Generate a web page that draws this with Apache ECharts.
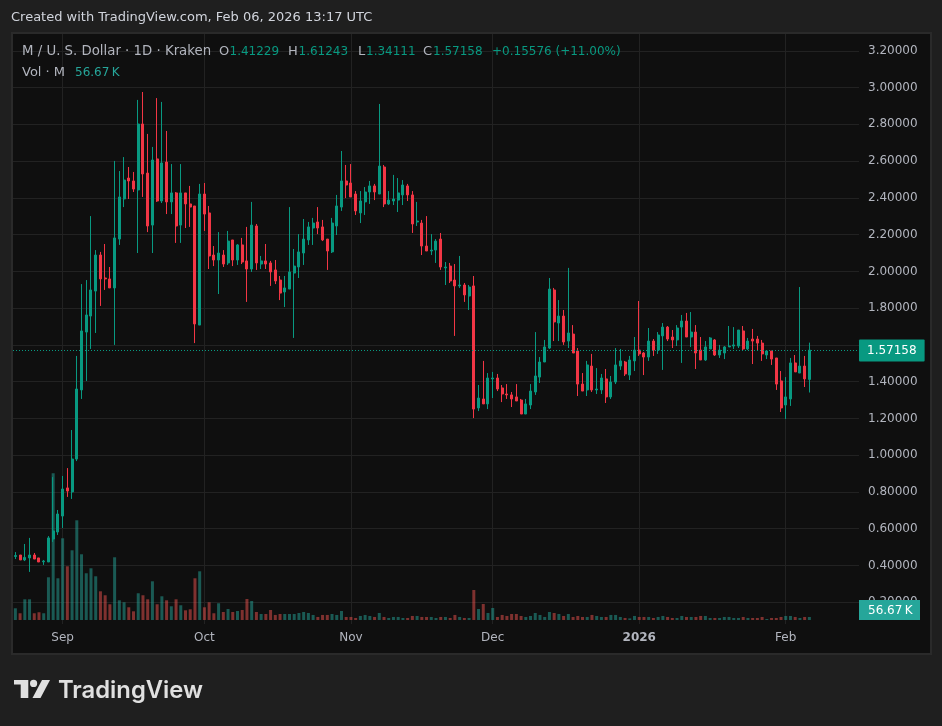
<!DOCTYPE html>
<html><head><meta charset="utf-8">
<style>html,body{margin:0;padding:0;background:#1f1f1f;overflow:hidden}#c{width:942px;height:726px}</style>
<script src="https://cdn.jsdelivr.net/npm/echarts@6/dist/echarts.min.js"></script>
</head><body><div id="c"></div>
<script>
const opens=[.449,.457,.430,.441,.457,.441,.420,.419,.544,.582,.669,.822,.800,.979,1.355,1.670,1.757,1.893,2.089,1.964,1.959,1.910,2.176,2.394,2.508,2.492,2.443,2.802,2.535,2.252,2.612,2.383,2.595,2.378,2.427,2.252,2.427,2.367,2.356,1.708,2.421,2.318,2.089,2.062,2.089,2.046,2.171,2.062,2.144,2.057,2.013,2.247,2.040,2.057,2.046,2.008,1.953,1.888,1.904,1.991,2.024,2.100,2.171,2.236,2.269,2.242,2.176,2.106,2.247,2.350,2.492,2.481,2.421,2.318,2.378,2.432,2.465,2.421,2.568,2.367,2.383,2.388,2.416,2.465,2.416,2.269,2.263,2.138,2.111,2.116,2.176,2.019,2.029,1.953,1.921,1.926,1.866,1.921,1.257,1.306,1.279,1.415,1.420,1.366,1.333,1.328,1.317,1.300,1.224,1.273,1.344,1.425,1.507,1.583,1.899,1.719,1.757,1.621,1.659,1.567,1.387,1.355,1.485,1.355,1.355,1.415,1.317,1.398,1.485,1.507,1.436,1.513,1.572,1.556,1.534,1.621,1.572,1.649,1.697,1.643,1.627,1.697,1.730,1.643,1.670,1.572,1.518,1.578,1.627,1.545,1.556,1.589,1.594,1.594,1.676,1.578,1.632,1.632,1.610,1.545,1.567,1.529,1.404,1.273,1.306,1.502,1.447,1.485,1.41229];
const highs=[.473,.457,.517,.550,.468,.441,.430,.560,.881,.702,.887,.930,1.137,1.540,1.931,1.953,2.301,2.116,2.106,2.149,2.024,2.601,2.546,2.622,2.568,2.541,2.933,2.976,2.748,2.677,2.943,2.922,2.764,2.584,2.432,2.584,2.427,2.465,2.356,2.476,2.481,2.356,2.138,2.214,2.116,2.220,2.171,2.149,2.182,2.242,2.378,2.258,2.084,2.149,2.057,2.062,1.975,1.975,2.350,2.122,2.203,2.285,2.269,2.291,2.350,2.280,2.176,2.291,2.416,2.655,2.579,2.584,2.437,2.437,2.459,2.492,2.476,2.911,2.579,2.437,2.525,2.508,2.497,2.476,2.437,2.378,2.280,2.301,2.203,2.176,2.209,2.051,2.046,2.040,2.084,1.937,1.926,1.975,1.382,1.513,1.447,1.453,1.442,1.382,1.387,1.344,1.387,1.306,1.306,1.387,1.670,1.534,1.627,1.964,1.910,1.844,1.790,2.019,1.708,1.583,1.447,1.513,1.551,1.474,1.442,1.469,1.431,1.583,1.578,1.513,1.540,1.643,1.839,1.561,1.692,1.632,1.670,1.719,1.703,1.681,1.708,1.763,1.774,1.779,1.708,1.643,1.621,1.643,1.632,1.600,1.594,1.703,1.697,1.681,1.703,1.638,1.687,1.649,1.627,1.567,1.567,1.529,1.458,1.425,1.529,1.545,1.915,1.540,1.61243];
const lows=[.435,.430,.424,.365,.435,.419,.403,.419,.528,.566,.604,.773,.762,.968,1.306,1.404,1.578,1.665,1.812,1.899,1.910,1.600,2.144,2.350,2.394,2.432,2.100,2.405,2.214,2.100,2.378,2.372,2.312,2.312,2.155,2.155,2.236,2.242,1.610,1.708,2.220,2.013,2.029,1.877,2.024,2.035,2.029,2.035,2.040,1.834,1.997,2.008,2.013,2.013,1.921,1.931,1.844,1.806,1.904,1.638,1.964,2.035,2.144,2.144,2.203,2.165,2.008,2.100,2.198,2.329,2.399,2.405,2.307,2.263,2.307,2.367,2.388,2.421,2.350,2.361,2.361,2.323,2.361,2.383,2.209,2.247,2.089,2.111,2.089,2.046,2.008,1.926,1.937,1.649,1.910,1.834,1.790,1.202,1.240,1.279,1.251,1.311,1.349,1.289,1.306,1.262,1.295,1.224,1.224,1.251,1.328,1.393,1.507,1.578,1.621,1.621,1.600,1.583,1.556,1.322,1.349,1.322,1.344,1.333,1.333,1.284,1.306,1.387,1.464,1.431,1.409,1.458,1.540,1.436,1.513,1.540,1.551,1.464,1.621,1.583,1.594,1.502,1.643,1.589,1.469,1.518,1.513,1.578,1.540,1.529,1.523,1.589,1.578,1.583,1.572,1.572,1.496,1.567,1.513,1.523,1.491,1.355,1.235,1.197,1.268,1.453,1.447,1.371,1.34111];
const closes=[.454,.430,.444,.457,.435,.419,.424,.550,.588,.680,.816,.805,.979,1.360,1.676,1.763,1.899,2.089,1.959,1.959,1.910,2.182,2.405,2.497,2.492,2.448,2.802,2.530,2.247,2.606,2.383,2.590,2.378,2.427,2.247,2.427,2.367,2.350,1.714,2.421,2.312,2.084,2.062,2.100,2.040,2.165,2.062,2.144,2.051,2.013,2.252,2.046,2.057,2.040,1.997,1.948,1.882,1.910,1.997,2.029,2.106,2.176,2.242,2.263,2.236,2.171,2.111,2.263,2.356,2.492,2.470,2.405,2.329,2.383,2.432,2.465,2.432,2.573,2.367,2.388,2.394,2.427,2.470,2.416,2.258,2.274,2.138,2.111,2.116,2.165,2.024,2.024,1.948,1.921,1.926,1.872,1.915,1.251,1.311,1.279,1.420,1.420,1.360,1.333,1.328,1.306,1.295,1.224,1.279,1.349,1.431,1.507,1.589,1.904,1.725,1.757,1.616,1.665,1.556,1.387,1.349,1.491,1.355,1.360,1.420,1.317,1.398,1.491,1.513,1.442,1.518,1.572,1.551,1.534,1.621,1.572,1.654,1.697,1.632,1.627,1.692,1.730,1.643,1.670,1.556,1.518,1.589,1.638,1.545,1.572,1.589,1.594,1.600,1.681,1.578,1.621,1.621,1.610,1.551,1.567,1.523,1.387,1.257,1.317,1.502,1.453,1.485,1.415,1.57158];
const volumesK=[221,127,391,391,127,146,127,807,2773,788,1544,1015,1317,1884,1242,883,977,826,542,467,297,1185,372,335,240,164,505,467,391,731,297,448,372,259,391,278,183,202,788,920,240,335,127,316,151,208,151,170,189,397,359,151,113,113,189,95,113,113,113,113,132,151,132,95,57,95,95,113,95,170,57,57,38,76,95,76,57,132,57,38,57,57,38,38,76,76,57,57,57,38,57,57,38,95,57,38,38,567,208,302,132,227,57,95,76,113,113,76,57,76,132,95,57,151,132,113,76,113,57,76,57,57,95,76,57,57,95,95,57,38,30,76,57,57,57,38,57,76,57,38,38,76,57,57,57,76,76,38,38,38,57,57,38,38,57,38,38,38,57,19,38,38,57,76,76,57,38,57,56.67];
const monthTicks=['2025-09-01','2025-10-01','2025-11-01','2025-12-01','2026-01-01','2026-02-01'];
const monthLabels=['Sep','Oct','Nov','Dec','2026','Feb'];
const priceTicks=[0.2,0.4,0.6,0.8,1.0,1.2,1.4,1.8,2.0,2.2,2.4,2.6,2.8,3.0,3.2];
const changeAbs=0.15576, changePct=11.00;
const firstDay='2025-08-22', totalDays=179;

const categories=[];
{let t=Date.parse(firstDay+'T00:00:00Z');for(let i=0;i<totalDays;i++){categories.push(new Date(t+i*864e5).toISOString().slice(0,10));}}
const UP='#089981',DOWN='#F23645',GRID='#222222',TXT='#b2b5be',FONT='"DejaVu Sans",sans-serif';
const n=closes.length,O=opens[n-1],H=highs[n-1],L=lows[n-1],C=closes[n-1];
const candle=opens.map((o,i)=>[o,closes[i],lows[i],highs[i]]);
const vols=volumesK.map((v,i)=>({value:v,itemStyle:{color:closes[i]>=opens[i]?'rgba(38,166,154,0.5)':'rgba(239,83,80,0.5)'}}));
const isTick=(i,v)=>monthTicks.includes(v);
function t(text,x,y,color,opt){return Object.assign({type:'text',z:100,x:x,y:y,style:Object.assign({text:text,fill:color,font:'12px '+FONT,textVerticalAlign:'middle'},opt||{})});}
const big={font:'13px '+FONT};
const graphic=[
 {type:'rect',z:-20,shape:{x:0,y:0,width:942,height:726},style:{fill:'#1f1f1f'}},
 {type:'rect',z:-19,shape:{x:11,y:32,width:921,height:623},style:{fill:'#2a2a2a'}},
 {type:'rect',z:-18,shape:{x:13,y:34,width:917,height:619},style:{fill:'#0f0f0f'}},
 t('Created with TradingView.com, Feb 06, 2026 13:17 UTC',11,17.5,'#d1d4dc',big),
 t('M / U. S. Dollar · 1D · Kraken',22,51.5,TXT,{font:'13.3px '+FONT}),
 t('O',219,51.5,TXT,big),t(O.toFixed(5),229.5,51.5,UP),
 t('H',288,51.5,TXT,big),t(H.toFixed(5),298.5,51.5,UP),
 t('L',358,51.5,TXT,big),t(L.toFixed(5),366,51.5,UP),
 t('C',423,51.5,TXT,big),t(C.toFixed(5),433,51.5,UP),
 t('+'+changeAbs.toFixed(5)+' (+'+changePct.toFixed(2)+'%)',492,51.5,UP),
 t('Vol · M',22,72.5,TXT,big),t(volumesK[n-1].toFixed(2)+'\u2009K',75,72.5,'#26a69a'),
 {type:'rect',z:99,shape:{x:859,y:600,width:61,height:20},style:{fill:'#26a69a'}},
 t(volumesK[n-1].toFixed(2)+'\u2009K',868,610.5,'#ffffff'),
 {type:'polygon',z:100,shape:{points:[[14,680],[28.3,680],[28.3,698],[20.7,698],[20.7,684.5],[14,684.5]]},style:{fill:'#e0e0e0'}},
 {type:'circle',z:100,shape:{cx:33.6,cy:683.4,r:3.6},style:{fill:'#e0e0e0'}},
 {type:'polygon',z:100,shape:{points:[[42,680],[50,680],[40.5,698],[32.5,698]]},style:{fill:'#e0e0e0'}},
 t('TradingView',58,691,'#e0e0e0',{font:'600 23.8px Inter,sans-serif'})
];
const chart=echarts.init(document.getElementById('c'),null,{renderer:'canvas',width:942,height:726});
chart.setOption({
 animation:false,backgroundColor:'#1f1f1f',graphic:{elements:graphic},
 grid:[{left:13,right:83,top:34,bottom:87},{left:13,right:83,top:34,bottom:102}],
 xAxis:[
  {type:'category',gridIndex:0,data:categories,show:false},
  {type:'category',gridIndex:1,data:categories,
   axisLine:{show:false},axisTick:{show:false,alignWithLabel:true},
   splitLine:{show:true,alignWithLabel:true,interval:isTick,lineStyle:{color:GRID,width:1}},
   axisLabel:{interval:isTick,margin:8,color:TXT,fontSize:12,fontFamily:FONT,
    formatter:v=>{const s=monthLabels[monthTicks.indexOf(v)];return s==='2026'?'{b|'+s+'}':s;},
    rich:{b:{fontWeight:'bold',fontSize:12,color:TXT,fontFamily:FONT}}}}
 ],
 yAxis:[
  {type:'value',gridIndex:0,position:'right',min:0,max:3.2916,interval:0.2,scale:false,
   axisLine:{show:false},axisTick:{show:false},
   splitLine:{show:true,showMinLine:false,showMaxLine:false,lineStyle:{color:GRID,width:1}},
   axisLabel:{margin:9,color:TXT,fontSize:12,fontFamily:FONT,showMinLabel:false,showMaxLabel:false,
    formatter:v=>priceTicks.some(p=>Math.abs(p-v)<1e-6)?v.toFixed(5):''}},
  {type:'value',gridIndex:1,min:-76,max:11075,show:false,splitLine:{show:false}}
 ],
 series:[
  {type:'bar',name:'Vol',xAxisIndex:1,yAxisIndex:1,data:vols,barWidth:3,z:2},
  {type:'candlestick',name:'M',xAxisIndex:0,yAxisIndex:0,data:candle,barWidth:2.5,z:3,clip:false,
   itemStyle:{color:UP,color0:DOWN,borderColor:UP,borderColor0:DOWN,borderWidth:1},
   markLine:{silent:true,symbol:'none',animation:false,
    lineStyle:{color:UP,type:[1,2],width:1},
    label:{show:true,position:'end',distance:0,formatter:C.toFixed(5),color:'#fff',backgroundColor:UP,fontFamily:FONT,fontSize:12,padding:[6,8,4,8],borderRadius:1},
    data:[{yAxis:C-0.0022}]}}
 ]
});
</script></body></html>
